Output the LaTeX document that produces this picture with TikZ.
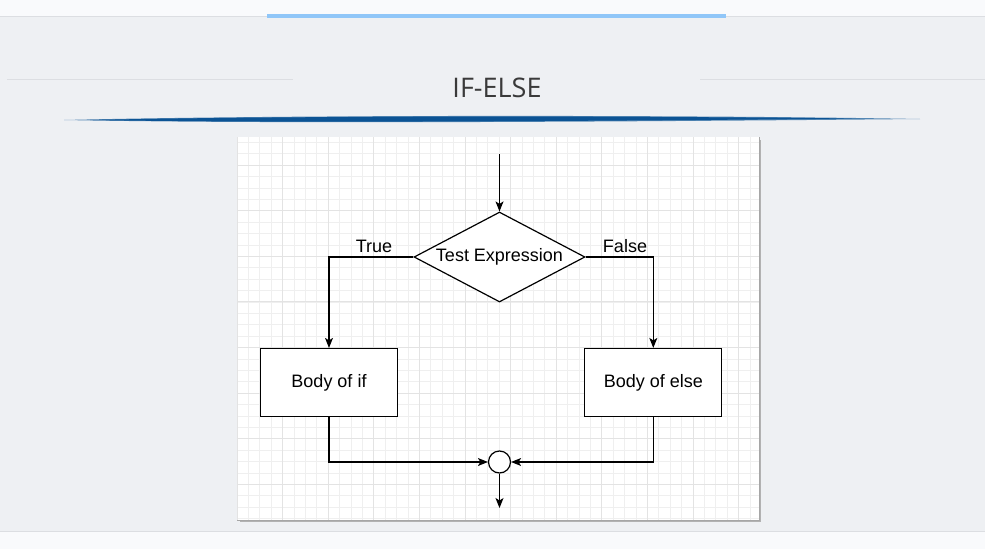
\documentclass[tikz,border=0pt]{standalone}
\usepackage{fontspec}
\setmainfont{Liberation Sans}
\newfontfamily\titlefont{Open Sans}
\usetikzlibrary{shapes.geometric,arrows.meta}
\definecolor{pagebg}{HTML}{EEF0F3}
\definecolor{bandbg}{HTML}{F9FAFC}
\definecolor{bandline}{HTML}{DCDEE2}
\definecolor{barblue}{HTML}{90C6F8}
\definecolor{swoosh}{HTML}{0B5394}
\definecolor{gridminor}{HTML}{EFEFEF}
\definecolor{gridmajor}{HTML}{E3E3E3}
\definecolor{titlegray}{HTML}{3A3A3A}
\tikzset{
  flowline/.style={draw=black, line width=1.2pt, -{Stealth[length=10pt,width=8pt,inset=2.5pt]}},
  procbox/.style={draw=black, line width=1.2pt, fill=white, minimum width=137pt, minimum height=68pt, inner sep=0pt, font=\fontsize{18}{20}\selectfont},
  decision/.style={diamond, draw=black, line width=1.2pt, fill=white, minimum width=171pt, minimum height=90pt, aspect=1.9, inner sep=0pt, font=\fontsize{18}{20}\selectfont},
  junction/.style={circle, draw=black, line width=1.2pt, fill=white, minimum size=22pt, inner sep=0pt},
  edgelabel/.style={font=\fontsize{18}{20}\selectfont, inner sep=0pt}
}
\begin{document}
\begin{tikzpicture}[x=1pt,y=-1pt]
\useasboundingbox (0,0) rectangle (985,549);
% page background
\fill[pagebg] (0,0) rectangle (985,549);
% top band
\fill[bandbg] (0,0) rectangle (985,16);
\draw[bandline, line width=1pt] (0,16.5) -- (985,16.5);
\fill[barblue] (267,14) rectangle (726,18);
% bottom band
\fill[bandbg] (0,532) rectangle (985,549);
\draw[bandline, line width=1pt] (0,531.5) -- (985,531.5);
% title rules
\draw[bandline, line width=0.8pt] (7,79) -- (293,79);
\draw[bandline, line width=0.8pt] (700,79) -- (985,79);
\node[font=\titlefont\fontsize{27}{30}\selectfont, text=titlegray, inner sep=0pt] (title) at (497,88) {IF-ELSE};
% swoosh
\fill[swoosh!70] (64,120) .. controls (300,114.5) and (700,115) .. (920,119) .. controls (700,121) and (300,124.5) .. (64,120) -- cycle;
\fill[swoosh] (90,120) .. controls (300,115.5) and (650,116) .. (860,118.6) .. controls (650,120.5) and (300,123.5) .. (90,120) -- cycle;
% panel shadow and panel
\fill[gray!60] (239.5,139.5) rectangle (761,522);
\fill[white] (237,137) rectangle (759,520);
\begin{scope}
\clip (237,137) rectangle (759,520);
\foreach \i in {0,...,46} {
  \draw[gridminor, line width=0.8pt] ({237+11.4*\i},137) -- ({237+11.4*\i},520);
}
\foreach \i in {0,...,36} {
  \draw[gridminor, line width=0.8pt] (237,{119.5+11.4*\i}) -- (759,{119.5+11.4*\i});
}
\foreach \i in {0,...,12} {
  \draw[gridmajor, line width=0.9pt] ({237+45.6*\i},137) -- ({237+45.6*\i},520);
}
\foreach \i in {0,...,9} {
  \draw[gridmajor, line width=0.9pt] (237,{119.5+45.6*\i}) -- (759,{119.5+45.6*\i});
}
\end{scope}
\draw[gray!70, line width=0.6pt] (759,137) -- (759,520) -- (237,520);
% flowchart
\coordinate (start) at (499.5,154);
\node[decision] (test) at (499.5,257) {Test Expression};
\node[procbox] (ifbody) at (329,382.5) {Body of if};
\node[procbox] (elsebody) at (653.3,382.5) {Body of else};
\node[junction] (join) at (499.5,462) {};
\coordinate (finish) at (499.5,508);
\draw[flowline] (start) -- (test.north);
\draw[flowline] (test.west) -| (ifbody.north);
\draw[flowline] (test.east) -| (elsebody.north);
\draw[flowline] (ifbody.south) |- (join.west);
\draw[flowline] (elsebody.south) |- (join.east);
\draw[flowline] (join.south) -- (finish);
\node[edgelabel] (truelbl) at (374,246) {True};
\node[edgelabel] (falselbl) at (625,246) {False};
\end{tikzpicture}
\end{document}
